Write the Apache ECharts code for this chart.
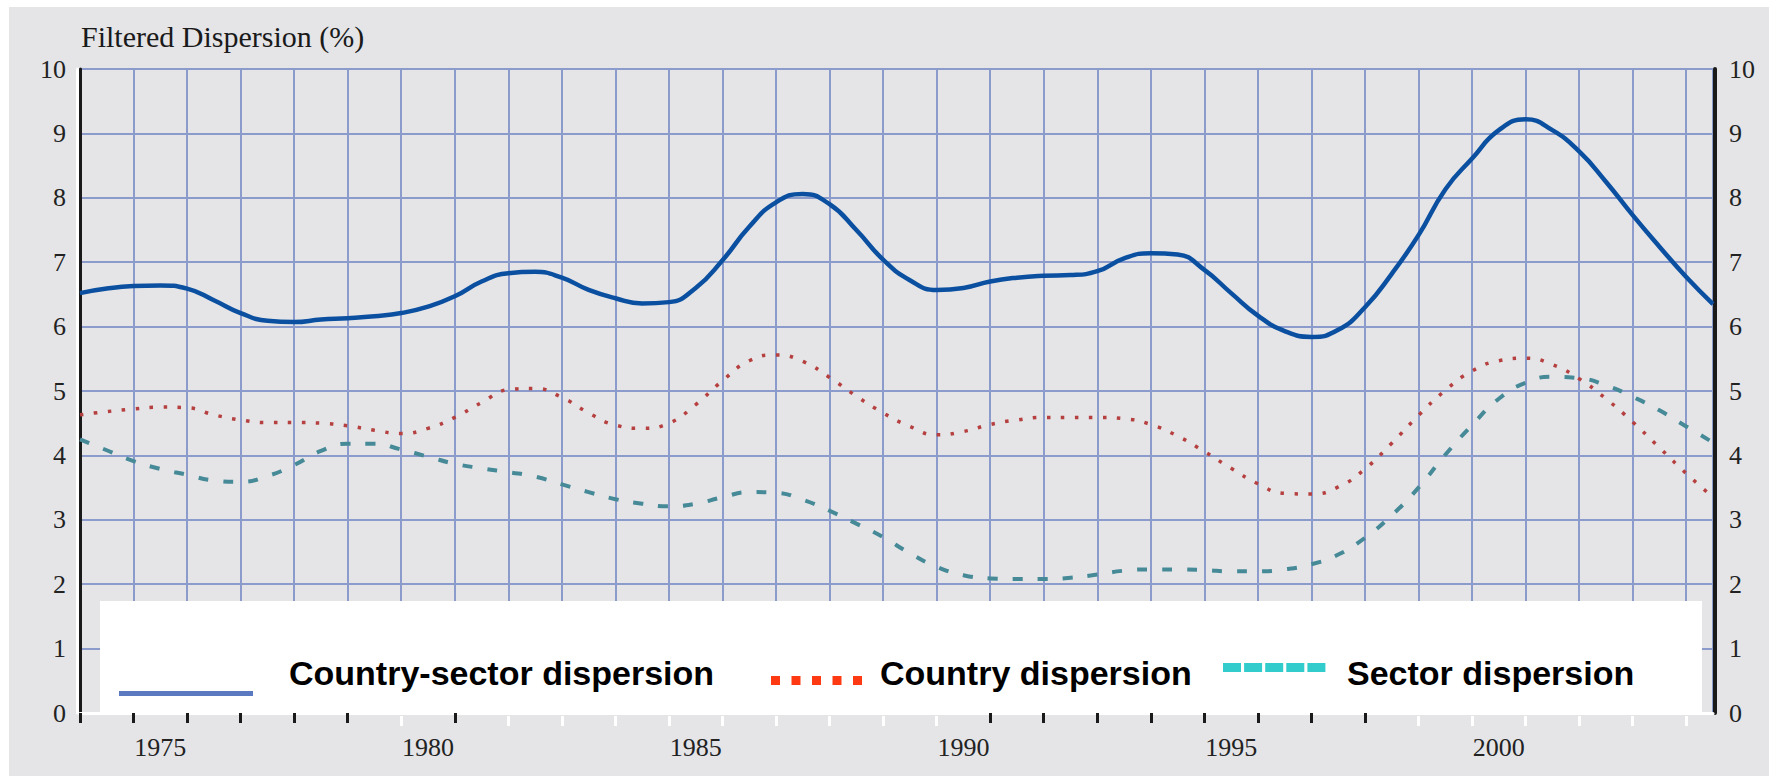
<!DOCTYPE html>
<html><head><meta charset="utf-8">
<script src="https://cdn.jsdelivr.net/npm/echarts@6/dist/echarts.min.js"></script>
<style>
html,body{margin:0;padding:0;background:#fff;overflow:hidden;}
#c{width:1769px;height:776px;background:
 linear-gradient(#fff,#fff) 0 0/100% 7px no-repeat,
 linear-gradient(#fff,#fff) 0 0/9px 100% no-repeat, #e5e5e8;}
</style></head><body><div id="c"></div>
<script>
const axisTitle = 'Filtered Dispersion (%)';
const seriesNames = ['Country-sector dispersion', 'Country dispersion', 'Sector dispersion'];
const yearLabels = ['1975', '1980', '1985', '1990', '1995', '2000'];
const blackTickYears = [1974, 1975, 1976, 1977, 1978, 1979, 1981, 1991, 1992, 1993, 1994, 1995, 1996, 1997, 1998];
const whiteTickYears = [1980, 1982, 1983, 1984, 1985, 1986, 1987, 1988, 1989, 1990, 1999, 2000, 2001, 2002, 2003, 2004];

const years = [1974, 1974.5, 1975, 1975.5, 1976, 1976.5, 1977, 1977.5, 1978, 1978.5,
  1979, 1979.5, 1980, 1980.5, 1981, 1981.5, 1982, 1982.5, 1983, 1983.5,
  1984, 1984.5, 1985, 1985.5, 1986, 1986.5, 1987, 1987.5, 1988, 1988.5,
  1989, 1989.5, 1990, 1990.5, 1991, 1991.5, 1992, 1992.5, 1993, 1993.5,
  1994, 1994.5, 1995, 1995.5, 1996, 1996.5, 1997, 1997.5, 1998, 1998.5,
  1999, 1999.5, 2000, 2000.5, 2001, 2001.5, 2002, 2002.5, 2003, 2003.5,
  2004, 2004.5];

const countrySector = [6.52, 6.59, 6.63, 6.64, 6.59, 6.41, 6.21, 6.09, 6.07, 6.11,
  6.13, 6.16, 6.21, 6.31, 6.47, 6.70, 6.83, 6.85, 6.76, 6.57,
  6.44, 6.36, 6.38, 6.60, 7.03, 7.55, 7.93, 8.06, 7.90, 7.50,
  7.04, 6.72, 6.57, 6.60, 6.70, 6.76, 6.79, 6.80, 6.86, 7.06,
  7.14, 7.12, 6.88, 6.52, 6.17, 5.93, 5.84, 5.95, 6.30, 6.82,
  7.42, 8.13, 8.61, 9.05, 9.22, 9.05, 8.72, 8.25, 7.73, 7.24,
  6.77, 6.35];

const country = [4.63, 4.68, 4.72, 4.75, 4.74, 4.63, 4.55, 4.51, 4.51, 4.50,
  4.46, 4.39, 4.34, 4.42, 4.59, 4.82, 5.02, 5.04, 4.90, 4.66,
  4.47, 4.42, 4.50, 4.79, 5.16, 5.47, 5.56, 5.46, 5.21, 4.92,
  4.66, 4.45, 4.32, 4.37, 4.48, 4.55, 4.59, 4.59, 4.59, 4.57,
  4.48, 4.30, 4.06, 3.80, 3.56, 3.41, 3.40, 3.51, 3.79, 4.19,
  4.62, 5.01, 5.31, 5.47, 5.51, 5.41, 5.19, 4.88, 4.52, 4.12,
  3.72, 3.35];

const sector = [4.25, 4.08, 3.91, 3.79, 3.70, 3.61, 3.59, 3.68, 3.85, 4.07,
  4.18, 4.18, 4.09, 3.98, 3.87, 3.80, 3.74, 3.67, 3.55, 3.43,
  3.32, 3.25, 3.21, 3.25, 3.35, 3.43, 3.42, 3.31, 3.14, 2.94,
  2.73, 2.48, 2.27, 2.14, 2.09, 2.08, 2.08, 2.10, 2.15, 2.21,
  2.23, 2.23, 2.22, 2.20, 2.20, 2.23, 2.31, 2.46, 2.72, 3.07,
  3.50, 4.01, 4.47, 4.88, 5.13, 5.22, 5.20, 5.09, 4.91, 4.70,
  4.45, 4.20];

const pairs = arr => years.map((y, i) => [y, arr[i]]);
const labelPos = yearLabels.map(l => Number(l) + 0.5);

const gridColor = '#8b9bcb';
const serif = '"Liberation Serif", "DejaVu Serif", serif';
const sans = '"Liberation Sans", Arial, sans-serif';

const legendGraphics = [
  { type: 'rect', z: 50, shape: { x: 100, y: 601, width: 1602, height: 112 }, style: { fill: '#ffffff' } },
  { type: 'line', z: 51, shape: { x1: 119, y1: 693.5, x2: 253, y2: 693.5 }, style: { stroke: '#5b79c0', lineWidth: 5 } },
  { type: 'text', z: 52, x: 289, y: 673, style: { text: seriesNames[0], font: 'bold 34px ' + sans, fill: '#000', verticalAlign: 'middle' } },
  { type: 'text', z: 52, x: 880, y: 673, style: { text: seriesNames[1], font: 'bold 34px ' + sans, fill: '#000', verticalAlign: 'middle' } },
  { type: 'text', z: 52, x: 1347, y: 673, style: { text: seriesNames[2], font: 'bold 34px ' + sans, fill: '#000', verticalAlign: 'middle' } }
];
for (let i = 0; i < 5; i++) {
  legendGraphics.push({ type: 'rect', z: 51, shape: { x: 771 + i * 20.5, y: 676, width: 9, height: 9 }, style: { fill: '#ff3a12' } });
  legendGraphics.push({ type: 'rect', z: 51, shape: { x: 1223 + i * 21.1, y: 663, width: 18, height: 9 }, style: { fill: '#33cccc' } });
}

const baseX = { type: 'value', position: 'bottom', min: 1974, max: 2004.5, interval: 1, offset: 3 };

const chart = echarts.init(document.getElementById('c'), null, { renderer: 'svg' });
chart.setOption({
  backgroundColor: 'transparent',
  animation: false,
  title: {
    text: axisTitle, left: 81, top: 21, padding: 0,
    textStyle: { fontFamily: serif, fontSize: 30, fontWeight: 'normal', color: '#1a1a1a' }
  },
  grid: { left: 80, right: 56, top: 69, bottom: 63 },
  xAxis: [
    Object.assign({}, baseX, {
      axisLine: { show: true, lineStyle: { color: '#ffffff', width: 3 } },
      axisTick: { show: false },
      axisLabel: { show: false },
      splitLine: { show: true, lineStyle: { color: gridColor, width: 2 } }
    }),
    Object.assign({}, baseX, {
      axisLine: { show: false },
      axisTick: { show: false },
      axisLabel: {
        customValues: labelPos,
        formatter: v => { const i = labelPos.indexOf(v); return i >= 0 ? yearLabels[i] : ''; },
        fontFamily: serif, fontSize: 26, color: '#222', margin: 18
      },
      splitLine: { show: false }
    }),
    Object.assign({}, baseX, {
      axisLine: { show: false },
      axisTick: { show: true, customValues: blackTickYears, length: 10, lineStyle: { color: '#1a1a1a', width: 3 } },
      axisLabel: { show: false },
      splitLine: { show: false }
    }),
    Object.assign({}, baseX, {
      axisLine: { show: false },
      axisTick: { show: true, customValues: whiteTickYears, length: 10, lineStyle: { color: '#ffffff', width: 3 } },
      axisLabel: { show: false },
      splitLine: { show: false }
    })
  ],
  yAxis: [
    {
      type: 'value', position: 'left', min: 0, max: 10, interval: 1,
      axisLine: { show: true, lineStyle: { color: '#1a1a1a', width: 3 } },
      axisTick: { show: false },
      axisLabel: { fontFamily: serif, fontSize: 26, color: '#222', margin: 14 },
      splitLine: { show: true, lineStyle: { color: gridColor, width: 2 } }
    },
    {
      type: 'value', position: 'right', min: 0, max: 10, interval: 1, offset: 2,
      axisLine: { show: true, lineStyle: { color: '#1a1a1a', width: 4 } },
      axisTick: { show: false },
      axisLabel: { fontFamily: serif, fontSize: 26, color: '#222', margin: 14 },
      splitLine: { show: false }
    },
    {
      type: 'value', position: 'left', min: 0, max: 10, interval: 1, offset: 3,
      axisLine: { show: true, lineStyle: { color: '#ffffff', width: 3 } },
      axisTick: { show: false }, axisLabel: { show: false }, splitLine: { show: false }
    }
  ],
  series: [
    {
      name: seriesNames[0], type: 'line', xAxisIndex: 0, yAxisIndex: 0, data: pairs(countrySector),
      smooth: true, showSymbol: false, z: 5,
      lineStyle: { color: '#0b50a0', width: 4.5 }
    },
    {
      name: seriesNames[1], type: 'line', xAxisIndex: 0, yAxisIndex: 0, data: pairs(country),
      smooth: true, showSymbol: false, z: 4,
      lineStyle: { color: '#b5403f', width: 3.5, type: [3.5, 10.5] }
    },
    {
      name: seriesNames[2], type: 'line', xAxisIndex: 0, yAxisIndex: 0, data: pairs(sector),
      smooth: true, showSymbol: false, z: 3,
      lineStyle: { color: '#468a98', width: 4, type: [10, 15] }
    }
  ],
  graphic: { elements: legendGraphics }
});
</script></body></html>
